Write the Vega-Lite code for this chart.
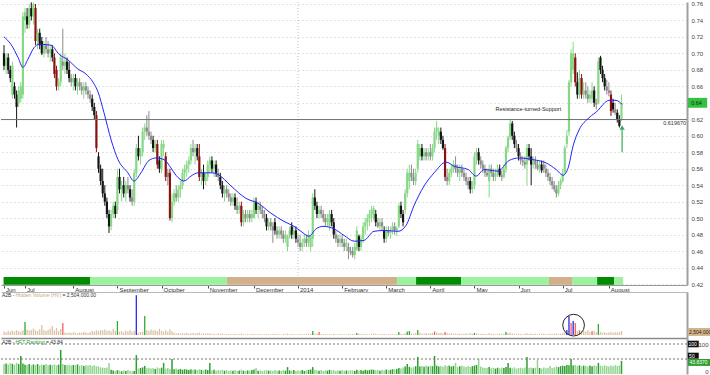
{
"$schema":"https://vega.github.io/schema/vega-lite/v6.json",
"padding":0,
"background":"white",
"spacing":0,
"config":{"view":{"stroke":null},"font":"Liberation Sans","axis":{"labelFont":"Liberation Sans","labelOverlap":false},"axisY":{"labelOverlap":false},"text":{"font":"Liberation Sans"}},
"datasets":{
"p":[
{"i":0,"o":70,"h":71,"l":68,"c":68.5,"v":2.2,"f":33},
{"i":1,"o":68.5,"h":70,"l":67.5,"c":69.5,"v":1.8,"f":35},
{"i":2,"o":69.5,"h":70,"l":67.5,"c":68,"v":2.5,"f":32},
{"i":3,"o":68,"h":68.5,"l":66.5,"c":67,"v":2,"f":36},
{"i":4,"o":65,"h":69,"l":64.5,"c":68.5,"v":2.8,"f":34},
{"i":5,"o":66,"h":66.5,"l":64.5,"c":65,"v":2.2,"f":31},
{"i":6,"o":65,"h":65.5,"l":61,"c":63.5,"v":3,"f":37},
{"i":7,"o":64,"h":66,"l":63.5,"c":65.5,"v":2.4,"f":33},
{"i":8,"o":64.5,"h":66.5,"l":64,"c":66,"v":2,"f":60},
{"i":9,"o":65,"h":75,"l":64.5,"c":74.5,"v":3,"f":35},
{"i":10,"o":74,"h":75.5,"l":72.5,"c":75,"v":8.2,"f":31,"hv":"b"},
{"i":11,"o":74.5,"h":75.5,"l":73,"c":73.5,"v":3.5,"f":30},
{"i":12,"o":73.5,"h":76,"l":73,"c":75.5,"v":2.8,"f":33},
{"i":13,"o":75.5,"h":76.2,"l":74,"c":74.5,"v":3.2,"f":29},
{"i":14,"o":74.5,"h":76.2,"l":73.5,"c":76,"v":4,"f":32},
{"i":15,"o":75.5,"h":76,"l":71,"c":71.5,"v":3,"f":30},
{"i":16,"o":71.5,"h":73,"l":70.5,"c":72.5,"v":2.5,"f":33},
{"i":17,"o":72.5,"h":73,"l":70.5,"c":71,"v":3.6,"f":28},
{"i":18,"o":71.5,"h":72,"l":69.8,"c":70,"v":6.3,"f":31},
{"i":19,"o":70,"h":71.5,"l":69.5,"c":71,"v":3,"f":30},
{"i":20,"o":71,"h":72,"l":70,"c":70.5,"v":2.6,"f":33},
{"i":21,"o":70.5,"h":71.5,"l":69.5,"c":70,"v":3.2,"f":29},
{"i":22,"o":70,"h":71,"l":69,"c":70.5,"v":4,"f":31},
{"i":23,"o":70.5,"h":71,"l":69,"c":69.5,"v":5.7,"f":30},
{"i":24,"o":69.5,"h":70,"l":67,"c":67.5,"v":3,"f":32},
{"i":25,"o":68,"h":68.5,"l":65.5,"c":66,"v":4.4,"f":29},
{"i":26,"o":66,"h":67,"l":65.5,"c":66.5,"v":2.5,"f":31},
{"i":27,"o":66.5,"h":70,"l":66,"c":69.5,"v":3.8,"f":80},
{"i":28,"o":69,"h":73,"l":68,"c":68.5,"v":7.5,"f":33,"hv":"s"},
{"i":29,"o":68.5,"h":70,"l":67.5,"c":69,"v":1.5,"f":30},
{"i":30,"o":69,"h":69.5,"l":67.5,"c":68,"v":1.2,"f":29},
{"i":31,"o":68,"h":69,"l":66.5,"c":67,"v":1.6,"f":31},
{"i":32,"o":67,"h":67.5,"l":66,"c":66.5,"v":1.3,"f":28},
{"i":33,"o":66.5,"h":67.5,"l":65.5,"c":67,"v":1.8,"f":30},
{"i":34,"o":67,"h":67.5,"l":65.5,"c":66,"v":1.5,"f":29},
{"i":35,"o":66,"h":67,"l":65,"c":66.5,"v":1.2,"f":32},
{"i":36,"o":66.5,"h":67,"l":65.5,"c":66,"v":1.6,"f":28},
{"i":37,"o":66,"h":66.5,"l":65,"c":65.5,"v":1.4,"f":30},
{"i":38,"o":65.5,"h":66.5,"l":64.5,"c":66,"v":2,"f":27},
{"i":39,"o":66,"h":66.5,"l":65,"c":65.5,"v":1.5,"f":29},
{"i":40,"o":65.5,"h":66,"l":64.5,"c":65,"v":1.3,"f":28},
{"i":41,"o":65,"h":65.5,"l":64,"c":64.5,"v":1.8,"f":30},
{"i":42,"o":64.5,"h":65,"l":63,"c":63.5,"v":2.5,"f":27},
{"i":43,"o":63.5,"h":64,"l":62,"c":62.5,"v":2.2,"f":29},
{"i":44,"o":62.5,"h":63,"l":58,"c":58.5,"v":3,"f":26},
{"i":45,"o":57.5,"h":58,"l":55.5,"c":56,"v":2.6,"f":25},
{"i":46,"o":56,"h":56.5,"l":54,"c":54.5,"v":3.2,"f":22},
{"i":47,"o":54.5,"h":56,"l":52.5,"c":53,"v":2.8,"f":21},
{"i":48,"o":53,"h":54,"l":51.5,"c":52,"v":3.5,"f":20},
{"i":49,"o":52,"h":52.5,"l":50,"c":50.5,"v":2.5,"f":22},
{"i":50,"o":50.5,"h":51,"l":48.2,"c":49,"v":3,"f":37},
{"i":51,"o":49,"h":51,"l":48.5,"c":50.5,"v":2.2,"f":14},
{"i":52,"o":50.5,"h":52,"l":50,"c":51.5,"v":4,"f":12},
{"i":53,"o":51.5,"h":52,"l":50,"c":50.5,"v":2.5,"f":10},
{"i":54,"o":51,"h":56,"l":50.5,"c":55,"v":8.8,"f":13,"hv":"b"},
{"i":55,"o":55,"h":56,"l":53,"c":53.5,"v":2,"f":11},
{"i":56,"o":53.5,"h":54.5,"l":52,"c":54,"v":2.5,"f":9},
{"i":57,"o":54,"h":55,"l":52.5,"c":53,"v":1.8,"f":12},
{"i":58,"o":53,"h":54.5,"l":52,"c":54,"v":2.8,"f":10},
{"i":59,"o":54,"h":55,"l":53,"c":53.5,"v":2.2,"f":13},
{"i":60,"o":53.5,"h":54,"l":52,"c":52.5,"v":3.2,"f":11},
{"i":61,"o":52.5,"h":53.5,"l":51.5,"c":52,"v":2,"f":9},
{"i":62,"o":52,"h":56,"l":51.5,"c":55.5,"v":2.6,"f":10},
{"i":63,"o":55.5,"h":59,"l":55,"c":58.5,"v":25,"f":63,"hv":"x"},
{"i":64,"o":58.5,"h":60,"l":57,"c":57.5,"v":1.5,"f":18},
{"i":65,"o":57.5,"h":58.5,"l":56.5,"c":58,"v":1.8,"f":20},
{"i":66,"o":58,"h":61,"l":57.5,"c":60.5,"v":2,"f":22},
{"i":67,"o":60.5,"h":61.5,"l":59.5,"c":61,"v":12,"f":27,"hv":"b"},
{"i":68,"o":61,"h":62.5,"l":60,"c":60.5,"v":3,"f":19},
{"i":69,"o":60.5,"h":63,"l":59.5,"c":60,"v":2.6,"f":21},
{"i":70,"o":60,"h":60.5,"l":59,"c":59.5,"v":3.5,"f":18},
{"i":71,"o":59.5,"h":60,"l":58,"c":58.5,"v":2.8,"f":20},
{"i":72,"o":58.5,"h":59.5,"l":58,"c":59,"v":3.2,"f":17},
{"i":73,"o":59,"h":59.5,"l":56,"c":56.5,"v":2.4,"f":22},
{"i":74,"o":57,"h":57.5,"l":55.5,"c":56,"v":3.8,"f":19},
{"i":75,"o":56,"h":59.5,"l":55.5,"c":59,"v":2.6,"f":21},
{"i":76,"o":58.5,"h":59.5,"l":57.5,"c":59,"v":2.2,"f":37},
{"i":77,"o":57.5,"h":58,"l":54.5,"c":55,"v":3,"f":18},
{"i":78,"o":55.5,"h":56,"l":54,"c":55,"v":2,"f":20},
{"i":79,"o":55.5,"h":56,"l":49.7,"c":50,"v":3.6,"f":17},
{"i":80,"o":50,"h":53,"l":49.5,"c":52,"v":2.4,"f":50},
{"i":81,"o":52,"h":53.5,"l":51.5,"c":53,"v":1.5,"f":16},
{"i":82,"o":53,"h":54,"l":52,"c":52.5,"v":1,"f":18},
{"i":83,"o":52.5,"h":54,"l":52,"c":53.5,"v":1.3,"f":15},
{"i":84,"o":53.5,"h":54.5,"l":52.5,"c":54,"v":0.9,"f":17},
{"i":85,"o":54,"h":56,"l":53.5,"c":55.5,"v":1.2,"f":14},
{"i":86,"o":55.5,"h":56.5,"l":54.5,"c":56,"v":1,"f":16},
{"i":87,"o":56,"h":57,"l":55,"c":56.5,"v":1.4,"f":15},
{"i":88,"o":56.5,"h":57.5,"l":55.5,"c":57,"v":0.8,"f":13},
{"i":89,"o":57,"h":59,"l":56.5,"c":58.5,"v":1.1,"f":16},
{"i":90,"o":58.5,"h":59.5,"l":57.5,"c":58,"v":1.3,"f":14},
{"i":91,"o":58,"h":59,"l":56.5,"c":58.5,"v":0.9,"f":15},
{"i":92,"o":58.5,"h":59,"l":57,"c":57.5,"v":1.2,"f":13},
{"i":93,"o":57.5,"h":59,"l":54.5,"c":55,"v":1.6,"f":16},
{"i":94,"o":55,"h":56,"l":54,"c":55.5,"v":0.8,"f":14},
{"i":95,"o":55.5,"h":56.5,"l":53.5,"c":54.5,"v":1,"f":12},
{"i":96,"o":54.5,"h":55.5,"l":54,"c":55,"v":0.7,"f":15},
{"i":97,"o":55,"h":57,"l":54.5,"c":56.5,"v":1.1,"f":13},
{"i":98,"o":56.5,"h":57.5,"l":55.5,"c":57,"v":0.9,"f":37},
{"i":99,"o":57,"h":57.5,"l":55.5,"c":56,"v":0.6,"f":12},
{"i":100,"o":56,"h":57,"l":55,"c":56.5,"v":0.8,"f":14},
{"i":101,"o":56.5,"h":57,"l":55,"c":55.5,"v":0.5,"f":11},
{"i":102,"o":55.5,"h":56,"l":54.5,"c":55,"v":0.9,"f":13},
{"i":103,"o":55,"h":55.5,"l":53.5,"c":54,"v":0.6,"f":12},
{"i":104,"o":54,"h":54.5,"l":52.5,"c":53,"v":1,"f":14},
{"i":105,"o":53,"h":54,"l":52,"c":53.5,"v":0.5,"f":11},
{"i":106,"o":53.5,"h":54,"l":52.5,"c":53,"v":0.7,"f":13},
{"i":107,"o":53,"h":53.5,"l":52,"c":52.5,"v":0.4,"f":10},
{"i":108,"o":52.5,"h":53,"l":51.5,"c":52,"v":0.6,"f":12},
{"i":109,"o":52,"h":53,"l":51.5,"c":52.5,"v":0.5,"f":11},
{"i":110,"o":52.5,"h":53,"l":51,"c":51.5,"v":0.8,"f":13},
{"i":111,"o":51.5,"h":52.5,"l":50.5,"c":51,"v":0.4,"f":10},
{"i":112,"o":51,"h":52,"l":50.5,"c":51.5,"v":0.6,"f":12},
{"i":113,"o":51.5,"h":52,"l":49,"c":49.5,"v":0.9,"f":14},
{"i":114,"o":49.5,"h":51,"l":49,"c":50.5,"v":0.5,"f":11},
{"i":115,"o":50.5,"h":51,"l":49.5,"c":50,"v":0.4,"f":10},
{"i":116,"o":50,"h":51,"l":49.5,"c":50.5,"v":0.6,"f":12},
{"i":117,"o":50.5,"h":51,"l":49.5,"c":50,"v":0.5,"f":11},
{"i":118,"o":50,"h":51,"l":49.5,"c":50.5,"v":0.7,"f":13},
{"i":119,"o":50,"h":52.5,"l":50,"c":52,"v":0.8,"f":15},
{"i":120,"o":52,"h":52.5,"l":50.5,"c":51,"v":0.5,"f":20},
{"i":121,"o":51,"h":52,"l":50,"c":51.5,"v":0.4,"f":11},
{"i":122,"o":51.5,"h":52,"l":50.5,"c":51,"v":0.6,"f":12},
{"i":123,"o":51,"h":51.5,"l":50,"c":50.5,"v":0.3,"f":10},
{"i":124,"o":50.5,"h":51,"l":49.5,"c":50,"v":0.5,"f":12},
{"i":125,"o":50,"h":50.5,"l":48.5,"c":49,"v":0.7,"f":13},
{"i":126,"o":49,"h":50,"l":48.5,"c":49.5,"v":0.4,"f":11},
{"i":127,"o":49.5,"h":50,"l":48.5,"c":49,"v":0.5,"f":12},
{"i":128,"o":49,"h":49.5,"l":47,"c":48.5,"v":0.6,"f":10},
{"i":129,"o":49.5,"h":50,"l":48,"c":48.5,"v":0.8,"f":13},
{"i":130,"o":48.5,"h":49,"l":47.5,"c":48,"v":0.4,"f":11},
{"i":131,"o":48,"h":49,"l":47.5,"c":48.5,"v":0.5,"f":12},
{"i":132,"o":48.5,"h":49,"l":47.5,"c":48,"v":0.3,"f":10},
{"i":133,"o":48,"h":48.5,"l":47,"c":47.5,"v":0.6,"f":13},
{"i":134,"o":47.5,"h":48.5,"l":47,"c":48,"v":0.4,"f":11},
{"i":135,"o":46.5,"h":48,"l":46,"c":47.8,"v":0.9,"f":23},
{"i":136,"o":47.8,"h":49,"l":47.5,"c":48.5,"v":0.5,"f":12},
{"i":137,"o":49,"h":49.5,"l":47.5,"c":48,"v":0.6,"f":11},
{"i":138,"o":48,"h":49,"l":47.5,"c":48.5,"v":0.4,"f":13},
{"i":139,"o":48.5,"h":49,"l":47,"c":47.5,"v":0.5,"f":10},
{"i":140,"o":47.5,"h":48,"l":46.5,"c":47,"v":0.3,"f":12},
{"i":141,"o":47,"h":48,"l":46,"c":46.5,"v":0.6,"f":11},
{"i":142,"o":46.5,"h":47.5,"l":46,"c":47,"v":0.4,"f":13},
{"i":143,"o":47,"h":48,"l":46.5,"c":47.5,"v":0.5,"f":10},
{"i":144,"o":47.5,"h":48,"l":46.5,"c":47,"v":0.7,"f":12},
{"i":145,"o":47,"h":48.5,"l":46.5,"c":48,"v":0.6,"f":14},
{"i":146,"o":46.5,"h":48,"l":46,"c":47.8,"v":0.8,"f":15},
{"i":147,"o":47.5,"h":53,"l":46.5,"c":52.5,"v":2.5,"f":23,"hv":"b"},
{"i":148,"o":52.5,"h":53.5,"l":51,"c":51.5,"v":1,"f":13},
{"i":149,"o":51.5,"h":52,"l":50,"c":50.5,"v":0.8,"f":12},
{"i":150,"o":50.5,"h":51.5,"l":50,"c":51,"v":1.9,"f":11,"hv":"s"},
{"i":151,"o":51,"h":51.5,"l":50,"c":50.5,"v":0.6,"f":13},
{"i":152,"o":50.5,"h":51,"l":49.5,"c":50,"v":0.4,"f":10},
{"i":153,"o":50,"h":50.5,"l":49,"c":49.5,"v":0.7,"f":12},
{"i":154,"o":49.5,"h":50.5,"l":49,"c":50,"v":0.5,"f":11},
{"i":155,"o":49,"h":51,"l":48.5,"c":50.5,"v":0.6,"f":14},
{"i":156,"o":50.5,"h":51,"l":49,"c":49.5,"v":0.4,"f":12},
{"i":157,"o":49.5,"h":50,"l":47.5,"c":48,"v":0.8,"f":13},
{"i":158,"o":48,"h":48.5,"l":47,"c":47.5,"v":0.5,"f":10},
{"i":159,"o":47.5,"h":48,"l":46.5,"c":47,"v":0.3,"f":12},
{"i":160,"o":47,"h":48,"l":46.5,"c":47.5,"v":0.6,"f":11},
{"i":161,"o":47.5,"h":48,"l":46.5,"c":47,"v":0.4,"f":13},
{"i":162,"o":47,"h":47.5,"l":46,"c":46.5,"v":0.5,"f":10},
{"i":163,"o":46.5,"h":47.5,"l":46,"c":47,"v":0.3,"f":12},
{"i":164,"o":46.5,"h":47,"l":45,"c":46,"v":0.7,"f":11},
{"i":165,"o":46,"h":46.5,"l":45.5,"c":45.8,"v":0.4,"f":13},
{"i":166,"o":46,"h":46.5,"l":45.2,"c":45.5,"v":0.6,"f":12},
{"i":167,"o":45.5,"h":47,"l":45,"c":46.5,"v":0.5,"f":10},
{"i":168,"o":46.2,"h":49,"l":46,"c":48.5,"v":1.3,"f":14,"hv":"b"},
{"i":169,"o":47.8,"h":48,"l":46,"c":46.5,"v":0.8,"f":12},
{"i":170,"o":46.5,"h":48,"l":46,"c":47.5,"v":0.5,"f":13},
{"i":171,"o":47.5,"h":49.5,"l":47,"c":49,"v":0.7,"f":11},
{"i":172,"o":49,"h":50,"l":48,"c":49.5,"v":0.6,"f":14},
{"i":173,"o":49.5,"h":50.5,"l":48.5,"c":50,"v":0.4,"f":12},
{"i":174,"o":50,"h":51,"l":49,"c":50.5,"v":0.5,"f":13},
{"i":175,"o":50.5,"h":51.5,"l":49.5,"c":51,"v":0.7,"f":15},
{"i":176,"o":50,"h":51.5,"l":49.7,"c":51.2,"v":0.9,"f":14},
{"i":177,"o":50.5,"h":51,"l":49,"c":49.5,"v":0.6,"f":12},
{"i":178,"o":49.5,"h":50,"l":48.8,"c":49,"v":0.4,"f":13},
{"i":179,"o":49,"h":50,"l":48.5,"c":49.5,"v":0.5,"f":11},
{"i":180,"o":49.5,"h":50,"l":48.5,"c":49,"v":0.6,"f":14},
{"i":181,"o":48.5,"h":49,"l":47,"c":47.5,"v":0.8,"f":12},
{"i":182,"o":47.5,"h":49,"l":47,"c":48.5,"v":0.5,"f":15},
{"i":183,"o":48.5,"h":49,"l":47.8,"c":48.2,"v":0.4,"f":13},
{"i":184,"o":48.2,"h":49,"l":47.5,"c":48.5,"v":0.6,"f":14},
{"i":185,"o":48.5,"h":49.5,"l":48,"c":49,"v":0.5,"f":16},
{"i":186,"o":49,"h":49.5,"l":48,"c":48.5,"v":0.4,"f":15},
{"i":187,"o":48.5,"h":49,"l":47.8,"c":48.8,"v":0.6,"f":17},
{"i":188,"o":49,"h":51.8,"l":48.8,"c":51.5,"v":1.9,"f":20,"hv":"b"},
{"i":189,"o":51.5,"h":52,"l":50,"c":50.5,"v":0.8,"f":18},
{"i":190,"o":50.5,"h":51,"l":49,"c":49.5,"v":0.6,"f":22},
{"i":191,"o":51,"h":53.5,"l":50.5,"c":53,"v":1.2,"f":25},
{"i":192,"o":53,"h":56,"l":52.5,"c":55.5,"v":2.2,"f":33,"hv":"b"},
{"i":193,"o":54.5,"h":56.5,"l":53.5,"c":55.5,"v":2.5,"f":24,"hv":"b"},
{"i":194,"o":55.5,"h":56.5,"l":54.5,"c":55,"v":1,"f":21},
{"i":195,"o":55,"h":56,"l":54,"c":54.5,"v":0.8,"f":23},
{"i":196,"o":54.5,"h":56,"l":54,"c":55.5,"v":1.1,"f":26},
{"i":197,"o":56,"h":59.5,"l":55.5,"c":59,"v":3.2,"f":57,"hv":"b"},
{"i":198,"o":57.5,"h":59,"l":57,"c":58.5,"v":1.4,"f":25},
{"i":199,"o":58.5,"h":59,"l":57,"c":57.5,"v":1,"f":27},
{"i":200,"o":57.5,"h":58.5,"l":57,"c":58,"v":0.8,"f":24},
{"i":201,"o":58,"h":58.5,"l":57,"c":57.5,"v":1.2,"f":28},
{"i":202,"o":57.5,"h":58.5,"l":57,"c":58,"v":0.9,"f":25},
{"i":203,"o":58,"h":59,"l":57,"c":57.5,"v":1.1,"f":27},
{"i":204,"o":57.5,"h":59,"l":57,"c":58.5,"v":1.3,"f":26},
{"i":205,"o":58.5,"h":61,"l":58,"c":60.5,"v":2.2,"f":60,"hv":"s"},
{"i":206,"o":60.5,"h":61.8,"l":59.5,"c":61,"v":1.6,"f":28},
{"i":207,"o":60,"h":61,"l":59,"c":60.5,"v":1.2,"f":25},
{"i":208,"o":60.5,"h":61,"l":59,"c":59.5,"v":1.4,"f":27},
{"i":209,"o":59.5,"h":60,"l":58.3,"c":58.5,"v":1,"f":24},
{"i":210,"o":58.5,"h":59,"l":54.5,"c":55,"v":1.9,"f":29,"hv":"s"},
{"i":211,"o":55,"h":56,"l":54,"c":54.5,"v":1.2,"f":26},
{"i":212,"o":54.5,"h":56,"l":54,"c":55.5,"v":0.9,"f":28},
{"i":213,"o":55.5,"h":56.5,"l":55,"c":56,"v":1.1,"f":25},
{"i":214,"o":56,"h":57,"l":55.5,"c":56.5,"v":0.8,"f":27},
{"i":215,"o":56.5,"h":57.5,"l":55.5,"c":56,"v":1,"f":37},
{"i":216,"o":56,"h":56.5,"l":55,"c":55.5,"v":0.7,"f":24},
{"i":217,"o":55.5,"h":56.5,"l":54.5,"c":56,"v":0.9,"f":26},
{"i":218,"o":56,"h":56.5,"l":55,"c":55.5,"v":0.6,"f":28},
{"i":219,"o":55.5,"h":56,"l":54.5,"c":55,"v":0.8,"f":25},
{"i":220,"o":55,"h":55.5,"l":54,"c":54.5,"v":1,"f":23},
{"i":221,"o":54.5,"h":55,"l":53.5,"c":54,"v":0.7,"f":27},
{"i":222,"o":54.5,"h":55,"l":53,"c":53.5,"v":1.2,"f":24},
{"i":223,"o":53.5,"h":54.5,"l":53,"c":54,"v":0.8,"f":26},
{"i":224,"o":54,"h":58,"l":53.5,"c":57.5,"v":1.3,"f":28,"hv":"b"},
{"i":225,"o":57.5,"h":58.5,"l":56.5,"c":58,"v":1,"f":30},
{"i":226,"o":58,"h":58.5,"l":56.5,"c":57,"v":0.8,"f":50},
{"i":227,"o":57,"h":57.5,"l":56,"c":56.5,"v":0.6,"f":25},
{"i":228,"o":56.5,"h":57,"l":55.5,"c":56,"v":0.9,"f":22},
{"i":229,"o":56,"h":56.5,"l":55,"c":55.5,"v":0.7,"f":20},
{"i":230,"o":55.5,"h":56,"l":55,"c":55.2,"v":0.5,"f":21},
{"i":231,"o":54.5,"h":56.5,"l":52.5,"c":56,"v":1.2,"f":23},
{"i":232,"o":56,"h":56.5,"l":55,"c":55.5,"v":0.6,"f":19},
{"i":233,"o":55.5,"h":56,"l":54.5,"c":55,"v":0.8,"f":20},
{"i":234,"o":55,"h":56,"l":54.5,"c":55.5,"v":0.5,"f":18},
{"i":235,"o":55.5,"h":56.5,"l":55,"c":56,"v":0.7,"f":21},
{"i":236,"o":56,"h":56.5,"l":55,"c":55.2,"v":0.9,"f":19},
{"i":237,"o":55.2,"h":55.8,"l":54.5,"c":55,"v":0.6,"f":22},
{"i":238,"o":55,"h":56.5,"l":54.8,"c":56,"v":0.8,"f":20},
{"i":239,"o":56,"h":58.8,"l":55.5,"c":58.5,"v":1.9,"f":23,"hv":"b"},
{"i":240,"o":58.5,"h":60,"l":58,"c":59.8,"v":1.2,"f":37},
{"i":241,"o":59.8,"h":62,"l":59.5,"c":61.5,"v":1.4,"f":21},
{"i":242,"o":61.5,"h":61.8,"l":59.5,"c":60,"v":1,"f":19},
{"i":243,"o":60,"h":60.5,"l":58.5,"c":59,"v":0.8,"f":22},
{"i":244,"o":59,"h":59.5,"l":58,"c":58.5,"v":0.6,"f":18},
{"i":245,"o":58.5,"h":59,"l":57,"c":57.5,"v":0.9,"f":20},
{"i":246,"o":57.5,"h":58,"l":56.5,"c":57,"v":0.7,"f":21},
{"i":247,"o":57,"h":57.5,"l":56.3,"c":56.8,"v":0.5,"f":19},
{"i":248,"o":56.8,"h":57.5,"l":56,"c":56.5,"v":0.8,"f":22},
{"i":249,"o":56.5,"h":59,"l":54,"c":58.5,"v":1.1,"f":57},
{"i":250,"o":58.5,"h":59,"l":57,"c":57.5,"v":0.7,"f":20},
{"i":251,"o":57.5,"h":58.5,"l":54,"c":56.5,"v":1,"f":22},
{"i":252,"o":56.5,"h":57.5,"l":56,"c":57,"v":0.6,"f":19},
{"i":253,"o":57,"h":57.5,"l":56,"c":56.5,"v":0.8,"f":21},
{"i":254,"o":56.5,"h":57,"l":55.8,"c":56,"v":0.5,"f":47},
{"i":255,"o":56,"h":57,"l":55.5,"c":56.5,"v":0.7,"f":20},
{"i":256,"o":56.5,"h":57,"l":55.5,"c":55.8,"v":0.6,"f":18},
{"i":257,"o":56.5,"h":57,"l":55.5,"c":56,"v":0.9,"f":22},
{"i":258,"o":56,"h":56.5,"l":55,"c":55.5,"v":0.5,"f":19},
{"i":259,"o":55.5,"h":56,"l":54.5,"c":55,"v":0.7,"f":21},
{"i":260,"o":55,"h":55.5,"l":54,"c":54.5,"v":0.8,"f":27},
{"i":261,"o":54.5,"h":55,"l":53.5,"c":54,"v":0.6,"f":20},
{"i":262,"o":54,"h":54.5,"l":53.2,"c":53.5,"v":0.9,"f":22},
{"i":263,"o":53.5,"h":54,"l":52.5,"c":53,"v":1,"f":25},
{"i":264,"o":53,"h":54.5,"l":52.7,"c":54,"v":0.7,"f":23},
{"i":265,"o":54,"h":54.8,"l":53.5,"c":54.5,"v":0.8,"f":26},
{"i":266,"o":54.5,"h":56,"l":54.3,"c":55.5,"v":1.2,"f":28},
{"i":267,"o":55.5,"h":58.8,"l":55.3,"c":58.5,"v":1.5,"f":27},
{"i":268,"o":59,"h":60.7,"l":58.5,"c":60,"v":3.2,"f":30,"hv":"x"},
{"i":269,"o":60.5,"h":66.8,"l":60,"c":66.5,"v":12,"f":29,"hv":"x"},
{"i":270,"o":66.5,"h":70.5,"l":66,"c":70,"v":7.5,"f":50,"hv":"s"},
{"i":271,"o":68,"h":71.4,"l":67.5,"c":70,"v":8.8,"f":28,"hv":"x"},
{"i":272,"o":69.5,"h":70,"l":66,"c":66.5,"v":7.5,"f":30,"hv":"s"},
{"i":273,"o":66.5,"h":67.7,"l":64.5,"c":65,"v":2.5,"f":27},
{"i":274,"o":65,"h":68,"l":64.5,"c":67,"v":3,"f":29,"hv":"s"},
{"i":275,"o":67,"h":67.5,"l":64.5,"c":65,"v":2.2,"f":26},
{"i":276,"o":65,"h":66.5,"l":64.5,"c":65.5,"v":2.8,"f":28},
{"i":277,"o":65.5,"h":66.5,"l":64.5,"c":65,"v":2,"f":27},
{"i":278,"o":65,"h":66,"l":64,"c":64.5,"v":3.2,"f":25},
{"i":279,"o":64.5,"h":65.5,"l":64,"c":65,"v":1.8,"f":28},
{"i":280,"o":64.5,"h":66.5,"l":64,"c":65.5,"v":2.4,"f":26,"hv":"s"},
{"i":281,"o":65.5,"h":66,"l":63.5,"c":64,"v":2.6,"f":29},
{"i":282,"o":64,"h":64.5,"l":63.2,"c":63.8,"v":1.9,"f":27},
{"i":283,"o":64,"h":69.5,"l":63.8,"c":69,"v":7,"f":37,"hv":"b"},
{"i":284,"o":69.5,"h":69.7,"l":67.5,"c":68,"v":2,"f":28},
{"i":285,"o":68,"h":68.5,"l":66.5,"c":67,"v":1.5,"f":26},
{"i":286,"o":67,"h":67.5,"l":65.5,"c":66,"v":1.8,"f":29},
{"i":287,"o":66,"h":66.8,"l":65,"c":65.5,"v":1.3,"f":27},
{"i":288,"o":65.5,"h":66.5,"l":64.8,"c":65.2,"v":1.6,"f":25},
{"i":289,"o":65,"h":65.5,"l":62.4,"c":63,"v":2,"f":28},
{"i":290,"o":64,"h":64.5,"l":62.8,"c":63.2,"v":1.4,"f":26},
{"i":291,"o":63.2,"h":64,"l":62.5,"c":62.8,"v":1.7,"f":29},
{"i":292,"o":62.8,"h":63.2,"l":61.6,"c":62,"v":1.5,"f":27},
{"i":293,"o":62,"h":62.5,"l":61,"c":61.2,"v":1.8,"f":28},
{"i":294,"o":62,"h":65,"l":61.8,"c":64,"v":2.504,"f":43.84}
],
"ma":[
{"i":0,"m":72},{"i":3.3,"m":71.1},{"i":6.7,"m":69.5},{"i":9,"m":68.3},{"i":11.4,"m":69.3},{"i":14.3,"m":70.7},{"i":16.7,"m":71.1},{"i":22.4,"m":71},{"i":26.2,"m":69.9},{"i":30.5,"m":69.2},{"i":35.2,"m":68.1},{"i":39,"m":67.5},{"i":42.4,"m":66.5},{"i":44.8,"m":65.3},{"i":47.6,"m":62.8},{"i":51,"m":59.5},{"i":54.3,"m":57.1},{"i":59,"m":55.5},{"i":61.9,"m":54.5},{"i":65.2,"m":55.5},{"i":69,"m":57},{"i":72.4,"m":57.3},{"i":76.2,"m":57.1},{"i":79.5,"m":56.1},{"i":81.9,"m":55.2},{"i":85.7,"m":54.5},{"i":89,"m":55.1},{"i":92.4,"m":55.5},{"i":98.6,"m":55.5},{"i":101.9,"m":55.3},{"i":108.1,"m":53.9},{"i":115.2,"m":52.4},{"i":121,"m":51.8},{"i":127.1,"m":50.6},{"i":133.3,"m":49.6},{"i":138.1,"m":49},{"i":141.4,"m":48.4},{"i":145.2,"m":47.8},{"i":148.6,"m":48.7},{"i":151.9,"m":49},{"i":157.1,"m":48.7},{"i":161.9,"m":47.9},{"i":166.7,"m":47.2},{"i":171.4,"m":47.3},{"i":176.2,"m":48.4},{"i":181,"m":48.5},{"i":187.6,"m":48.4},{"i":191.4,"m":49.1},{"i":195.2,"m":51.5},{"i":200,"m":53.9},{"i":204.8,"m":55.5},{"i":210.5,"m":56.8},{"i":214.3,"m":56.3},{"i":221,"m":55.9},{"i":224.8,"m":55.1},{"i":228.6,"m":55.9},{"i":235.2,"m":55.7},{"i":240.5,"m":57},{"i":245.2,"m":57.3},{"i":251.9,"m":57.1},{"i":258.1,"m":56.7},{"i":262.9,"m":55.9},{"i":266.2,"m":55.2},{"i":268.6,"m":56.1},{"i":271,"m":58.8},{"i":273.8,"m":60.7},{"i":278.6,"m":62.2},{"i":282.9,"m":63.1},{"i":285.2,"m":63.8},{"i":288.1,"m":64.3},{"i":291.4,"m":64.3},{"i":294.3,"m":63.8}
],
"seg":[
{"s":-0.2,"e":41,"z":"strong"},{"s":41,"e":106.2,"z":"up"},{"s":106.2,"e":187.1,"z":"flat"},{"s":187.1,"e":196.2,"z":"up"},{"s":196.2,"e":217.6,"z":"strong"},{"s":217.6,"e":259.5,"z":"up"},{"s":259.5,"e":270.5,"z":"flat"},{"s":270.5,"e":282.4,"z":"up"},{"s":282.4,"e":290.5,"z":"strong"},{"s":290.5,"e":294.8,"z":"up"}
]
},
"vconcat":[
{
"width":686,"height":283,
"layer":[
{"data":{"name":"p"},"mark":{"type":"rule","strokeWidth":1},
 "encoding":{
  "x":{"field":"i","type":"quantitative","title":null,"scale":{"domain":[-1.43,325.2],"nice":false,"zero":false},
   "axis":{"orient":"bottom","values":[0,10,33,54,75,97,119,140,161,182,203,224,245,266,288],
    "labelExpr":"['Jun','Jul','August','September','October','November','December','2014','February','March','April','May','Jun','Jul','August'][indexof([0,10,33,54,75,97,119,140,161,182,203,224,245,266,288],datum.value)]",
    "labelAlign":"left","labelBaseline":"top","labelFontSize":6,"labelColor":"#333","labelPadding":-2,"labelOffset":1.5,"tickSize":3,"tickColor":"#555","domainColor":"#999","grid":false,"title":null,"labelOverlap":false,"labelFlush":false}},
  "y":{"field":"l","type":"quantitative","title":null,"scale":{"domain":[41.88,76.24],"nice":false,"zero":false},
   "axis":{"orient":"right","values":[42,44,46,48,50,52,54,56,58,60,62,64,66,68,70,72,74,76],"tickCount":18,"labelExpr":"format(datum.value/100,'.2f')","labelOverlap":false,"labelSeparation":0,
    "labelFontSize":6,"labelColor":"#444","tickSize":0,"labelPadding":4,"domainColor":"#a0a0a0","domainWidth":2,"grid":true,"gridColor":"#c4c4c4","gridDash":[1,3],"title":null}},
  "y2":{"field":"h"},
  "color":{"condition":[{"test":"datum.c > datum.o","value":"#86d886"},{"test":"datum.o - datum.c >= 2","value":"#8b1010"},{"test":"datum.o - datum.c <= 0.5","value":"#8c8c8c"}],"value":"#141414"}}},
{"data":{"name":"p"},"mark":{"type":"rule","strokeWidth":2.2},
 "encoding":{
  "x":{"field":"i","type":"quantitative","title":null,"scale":{"domain":[-1.43,325.2],"nice":false,"zero":false}},
  "y":{"field":"o","type":"quantitative","title":null,"scale":{"domain":[41.88,76.24],"nice":false,"zero":false}},
  "y2":{"field":"c"},
  "color":{"condition":[{"test":"datum.c > datum.o","value":"#86d886"},{"test":"datum.o - datum.c >= 2","value":"#8b1010"},{"test":"datum.o - datum.c <= 0.5","value":"#8c8c8c"}],"value":"#141414"}}},
{"data":{"name":"seg"},"mark":{"type":"rect"},
 "encoding":{
  "x":{"field":"s","type":"quantitative","title":null,"scale":{"domain":[-1.43,325.2],"nice":false,"zero":false}},
  "x2":{"field":"e"},
  "y":{"datum":41.9,"type":"quantitative","title":null,"scale":{"domain":[41.88,76.24],"nice":false,"zero":false}},
  "y2":{"datum":42.85},
  "color":{"field":"z","type":"nominal","scale":{"domain":["strong","up","flat"],"range":["#008c00","#9cf29c","#d2b08c"]},"legend":null}}},
{"data":{"values":[{}]},"mark":{"type":"rule","color":"#c0c0c0","strokeDash":[1,2]},
 "encoding":{"x":{"datum":140,"type":"quantitative","title":null,"scale":{"domain":[-1.43,325.2],"nice":false,"zero":false}}}},
{"data":{"values":[{}]},"mark":{"type":"rule","color":"#707070","strokeWidth":1},
 "encoding":{"y":{"datum":61.967,"type":"quantitative","title":null,"scale":{"domain":[41.88,76.24],"nice":false,"zero":false}}}},
{"data":{"name":"ma"},"mark":{"type":"line","color":"#2222ff","strokeWidth":1,"interpolate":"monotone"},
 "encoding":{
  "x":{"field":"i","type":"quantitative","title":null,"scale":{"domain":[-1.43,325.2],"nice":false,"zero":false}},
  "y":{"field":"m","type":"quantitative","title":null,"scale":{"domain":[41.88,76.24],"nice":false,"zero":false}}}},
{"data":{"values":[{}]},"mark":{"type":"text","text":"Resistance-turned-Support","fontSize":5.5,"color":"#222","align":"left","baseline":"middle"},
 "encoding":{"x":{"datum":234,"type":"quantitative","title":null,"scale":{"domain":[-1.43,325.2],"nice":false,"zero":false}},
  "y":{"datum":63.2,"type":"quantitative","title":null,"scale":{"domain":[41.88,76.24],"nice":false,"zero":false}}}},
{"data":{"values":[{}]},"mark":{"type":"text","text":"0.619670","fontSize":5.5,"color":"#333","align":"right","baseline":"top","dy":1},
 "encoding":{"x":{"datum":324.8,"type":"quantitative","title":null,"scale":{"domain":[-1.43,325.2],"nice":false,"zero":false}},
  "y":{"datum":61.967,"type":"quantitative","title":null,"scale":{"domain":[41.88,76.24],"nice":false,"zero":false}}}},
{"data":{"values":[{}]},"mark":{"type":"rect","color":"#34c040"},
 "encoding":{"x":{"datum":325.6,"type":"quantitative","title":null,"scale":{"domain":[-1.43,325.2],"nice":false,"zero":false}},"x2":{"datum":334.8},
  "y":{"datum":63.4,"type":"quantitative","title":null,"scale":{"domain":[41.88,76.24],"nice":false,"zero":false}},"y2":{"datum":64.6}}},
{"data":{"values":[{}]},"mark":{"type":"text","text":"0.64","fontSize":5.5,"color":"#0b2a0b","align":"left","baseline":"middle"},
 "encoding":{"x":{"datum":327.2,"type":"quantitative","title":null,"scale":{"domain":[-1.43,325.2],"nice":false,"zero":false}},
  "y":{"datum":64,"type":"quantitative","title":null,"scale":{"domain":[41.88,76.24],"nice":false,"zero":false}}}},
{"data":{"values":[{}]},"mark":{"type":"rule","color":"#3aa860","strokeWidth":1.2},
 "encoding":{"x":{"datum":294.3,"type":"quantitative","title":null,"scale":{"domain":[-1.43,325.2],"nice":false,"zero":false}},
  "y":{"datum":58,"type":"quantitative","title":null,"scale":{"domain":[41.88,76.24],"nice":false,"zero":false}},"y2":{"datum":60.8}}},
{"data":{"values":[{}]},"mark":{"type":"point","shape":"triangle-up","filled":true,"size":28,"color":"#3aa860","opacity":1},
 "encoding":{"x":{"datum":294.3,"type":"quantitative","title":null,"scale":{"domain":[-1.43,325.2],"nice":false,"zero":false}},
  "y":{"datum":61,"type":"quantitative","title":null,"scale":{"domain":[41.88,76.24],"nice":false,"zero":false}}}}
]
},
{
"width":686,"height":46,
"layer":[
{"data":{"name":"p"},"mark":{"type":"rule","strokeWidth":1.3},
 "encoding":{
  "x":{"field":"i","type":"quantitative","title":null,"scale":{"domain":[-1.43,325.2],"nice":false,"zero":false},
   "axis":{"orient":"top","labels":false,"ticks":false,"grid":false,"domainColor":"#b8b8b8","title":null}},
  "y":{"field":"v","type":"quantitative","title":null,"scale":{"domain":[-1.9,27.1],"nice":false,"zero":false},
   "axis":{"orient":"right","labels":false,"ticks":false,"grid":false,"domainColor":"#a0a0a0","domainWidth":2,"title":null}},
  "y2":{"datum":0},
  "color":{"condition":[{"test":"datum.hv == 'x'","value":"#2a2ae6"},{"test":"datum.hv == 'b'","value":"#35a835"},{"test":"datum.hv == 's'","value":"#f06060"}],"value":"#dcc2a4"}}},
{"data":{"values":[{}]},"mark":{"type":"text","text":"A2B - ","fontSize":5,"color":"#333","align":"left","baseline":"middle","dx":1},
 "encoding":{"x":{"datum":-1.43,"type":"quantitative","title":null,"scale":{"domain":[-1.43,325.2],"nice":false,"zero":false}},
  "y":{"datum":25.2,"type":"quantitative","title":null,"scale":{"domain":[-1.9,27.1],"nice":false,"zero":false}}}},
{"data":{"values":[{}]},"mark":{"type":"text","text":"Hidden Volume (HV)","fontSize":5,"color":"#c8a882","align":"left","baseline":"middle","dx":14.5},
 "encoding":{"x":{"datum":-1.43,"type":"quantitative","title":null,"scale":{"domain":[-1.43,325.2],"nice":false,"zero":false}},
  "y":{"datum":25.2,"type":"quantitative","title":null,"scale":{"domain":[-1.9,27.1],"nice":false,"zero":false}}}},
{"data":{"values":[{}]},"mark":{"type":"text","text":"= 2,504,000.00","fontSize":5,"color":"#333","align":"left","baseline":"middle","dx":61.5},
 "encoding":{"x":{"datum":-1.43,"type":"quantitative","title":null,"scale":{"domain":[-1.43,325.2],"nice":false,"zero":false}},
  "y":{"datum":25.2,"type":"quantitative","title":null,"scale":{"domain":[-1.9,27.1],"nice":false,"zero":false}}}},
{"data":{"values":[{}]},"mark":{"type":"point","shape":"circle","filled":false,"size":470,"color":"#222","strokeWidth":1,"opacity":1},
 "encoding":{"x":{"datum":271.2,"type":"quantitative","title":null,"scale":{"domain":[-1.43,325.2],"nice":false,"zero":false}},
  "y":{"datum":6.2,"type":"quantitative","title":null,"scale":{"domain":[-1.9,27.1],"nice":false,"zero":false}}}},
{"data":{"values":[{}]},"mark":{"type":"rect","color":"#d2b48c"},
 "encoding":{"x":{"datum":325.6,"type":"quantitative","title":null,"scale":{"domain":[-1.43,325.2],"nice":false,"zero":false}},"x2":{"datum":336.5},
  "y":{"datum":-0.6,"type":"quantitative","title":null,"scale":{"domain":[-1.9,27.1],"nice":false,"zero":false}},"y2":{"datum":4.4}}},
{"data":{"values":[{}]},"mark":{"type":"text","text":"2,504,000","fontSize":5,"color":"#222","align":"left","baseline":"middle"},
 "encoding":{"x":{"datum":326.2,"type":"quantitative","title":null,"scale":{"domain":[-1.43,325.2],"nice":false,"zero":false}},
  "y":{"datum":1.9,"type":"quantitative","title":null,"scale":{"domain":[-1.9,27.1],"nice":false,"zero":false}}}}
]
},
{
"width":686,"height":36,
"layer":[
{"data":{"name":"p"},"mark":{"type":"rule","strokeWidth":1.5},
 "encoding":{
  "x":{"field":"i","type":"quantitative","title":null,"scale":{"domain":[-1.43,325.2],"nice":false,"zero":false},
   "axis":{"orient":"top","labels":false,"ticks":false,"grid":false,"domainColor":"#8a8a8a","domainWidth":1.5,"title":null}},
  "y":{"field":"f","type":"quantitative","title":null,"scale":{"domain":[0,120],"nice":false,"zero":true},
   "axis":{"orient":"right","values":[0,50,100],"labelFontSize":6,"labelColor":"#444","tickSize":0,"labelPadding":21,"labelAlign":"right","labelFlush":true,"labelOverlap":false,"grid":false,"domainColor":"#a0a0a0","domainWidth":2,"title":null}},
  "y2":{"datum":0},
  "color":{"condition":{"test":"datum.c > datum.o","value":"#2e9e2e"},"value":"#92d492"}}},
{"data":{"values":[{}]},"mark":{"type":"rule","color":"#777","strokeDash":[2,2]},
 "encoding":{"y":{"datum":100,"type":"quantitative","title":null,"scale":{"domain":[0,120],"nice":false,"zero":true}}}},
{"data":{"values":[{}]},"mark":{"type":"rule","color":"#777","strokeDash":[2,2]},
 "encoding":{"y":{"datum":50,"type":"quantitative","title":null,"scale":{"domain":[0,120],"nice":false,"zero":true}}}},
{"data":{"values":[{}]},"mark":{"type":"text","text":"A2B - ","fontSize":5,"color":"#333","align":"left","baseline":"middle","dx":1},
 "encoding":{"x":{"datum":-1.43,"type":"quantitative","title":null,"scale":{"domain":[-1.43,325.2],"nice":false,"zero":false}},
  "y":{"datum":108,"type":"quantitative","title":null,"scale":{"domain":[0,120],"nice":false,"zero":true}}}},
{"data":{"values":[{}]},"mark":{"type":"text","text":"HFT Ranking","fontSize":5,"color":"#2e9e2e","align":"left","baseline":"middle","dx":14.5},
 "encoding":{"x":{"datum":-1.43,"type":"quantitative","title":null,"scale":{"domain":[-1.43,325.2],"nice":false,"zero":false}},
  "y":{"datum":108,"type":"quantitative","title":null,"scale":{"domain":[0,120],"nice":false,"zero":true}}}},
{"data":{"values":[{}]},"mark":{"type":"text","text":"= 43.84","fontSize":5,"color":"#333","align":"left","baseline":"middle","dx":45},
 "encoding":{"x":{"datum":-1.43,"type":"quantitative","title":null,"scale":{"domain":[-1.43,325.2],"nice":false,"zero":false}},
  "y":{"datum":108,"type":"quantitative","title":null,"scale":{"domain":[0,120],"nice":false,"zero":true}}}},
{"data":{"values":[{}]},"mark":{"type":"rect","color":"#111"},
 "encoding":{"x":{"datum":325.6,"type":"quantitative","title":null,"scale":{"domain":[-1.43,325.2],"nice":false,"zero":false}},"x2":{"datum":330.8},
  "y":{"datum":89,"type":"quantitative","title":null,"scale":{"domain":[0,120],"nice":false,"zero":true}},"y2":{"datum":111}}},
{"data":{"values":[{}]},"mark":{"type":"text","text":"100","fontSize":5,"color":"white","align":"left","baseline":"middle"},
 "encoding":{"x":{"datum":325.9,"type":"quantitative","title":null,"scale":{"domain":[-1.43,325.2],"nice":false,"zero":false}},
  "y":{"datum":100,"type":"quantitative","title":null,"scale":{"domain":[0,120],"nice":false,"zero":true}}}},
{"data":{"values":[{}]},"mark":{"type":"rect","color":"#111"},
 "encoding":{"x":{"datum":325.6,"type":"quantitative","title":null,"scale":{"domain":[-1.43,325.2],"nice":false,"zero":false}},"x2":{"datum":330.8},
  "y":{"datum":51,"type":"quantitative","title":null,"scale":{"domain":[0,120],"nice":false,"zero":true}},"y2":{"datum":71}}},
{"data":{"values":[{}]},"mark":{"type":"text","text":"50","fontSize":5,"color":"white","align":"left","baseline":"middle"},
 "encoding":{"x":{"datum":326.2,"type":"quantitative","title":null,"scale":{"domain":[-1.43,325.2],"nice":false,"zero":false}},
  "y":{"datum":61,"type":"quantitative","title":null,"scale":{"domain":[0,120],"nice":false,"zero":true}}}},
{"data":{"values":[{}]},"mark":{"type":"rect","color":"#2ea02e"},
 "encoding":{"x":{"datum":325.6,"type":"quantitative","title":null,"scale":{"domain":[-1.43,325.2],"nice":false,"zero":false}},"x2":{"datum":336.5},
  "y":{"datum":27,"type":"quantitative","title":null,"scale":{"domain":[0,120],"nice":false,"zero":true}},"y2":{"datum":50}}},
{"data":{"values":[{}]},"mark":{"type":"text","text":"43.8370","fontSize":5,"color":"white","align":"left","baseline":"middle"},
 "encoding":{"x":{"datum":326.4,"type":"quantitative","title":null,"scale":{"domain":[-1.43,325.2],"nice":false,"zero":false}},
  "y":{"datum":38.5,"type":"quantitative","title":null,"scale":{"domain":[0,120],"nice":false,"zero":true}}}}
]
}
]
}
